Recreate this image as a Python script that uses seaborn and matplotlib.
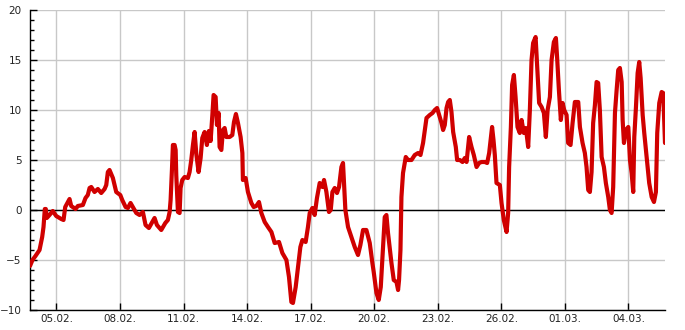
import matplotlib
matplotlib.use("Agg")
import matplotlib.pyplot as plt
import matplotlib.dates as mdates
from matplotlib.ticker import MultipleLocator
import seaborn as sns
import pandas as pd

start_time = "2023-02-03 18:00"
hours = [0.0, 2.8, 6.2, 10.8, 13.8, 15.3, 16.8, 17.9, 19.0, 22.1, 25.8, 29.7, 35.4, 38.0, 39.9,
         42.9, 44.8, 46.7, 51.6, 54.2, 59.9, 62.9, 65.5, 67.5, 69.4, 73.1, 76.9, 80.7, 84.5, 86.4,
         88.2, 90.1, 93.9, 97.7, 102.3, 104.5, 108.3, 110.9, 113.9, 116.5, 120.4, 124.1, 127.9,
         130.9, 134.7, 138.5, 141.1, 143.8, 148.7, 153.3, 156.2, 158.2, 159.3, 160.8, 161.9,
         163.8, 165.0, 165.7, 167.6, 169.5, 170.6, 172.5, 175.2, 178.9, 180.8, 182.7, 184.6,
         186.5, 188.4, 191.0, 193.3, 195.2, 197.8, 200.4, 202.7, 204.6, 206.6, 208.0, 210.3,
         211.8, 213.7, 214.8, 216.8, 218.6, 220.5, 222.4, 226.2, 229.2, 231.1, 233.3, 235.6,
         238.6, 240.6, 241.2, 244.3, 246.9, 250.8, 253.4, 256.4, 259.4, 262.1, 265.9, 269.6,
         273.5, 277.2, 282.1, 285.9, 290.5, 293.4, 296.1, 297.9, 301.0, 303.6, 306.3, 308.6,
         312.3, 314.9, 316.9, 319.9, 322.5, 325.1, 328.2, 331.3, 333.1, 335.8, 338.7, 340.7,
         342.6, 345.2, 347.8, 350.1, 352.8, 354.6, 355.8, 357.3, 360.3, 364.1, 367.9, 371.6,
         374.3, 377.3, 381.1, 384.9, 387.9, 389.4, 392.5, 395.1, 397.4, 400.0, 401.9, 403.8,
         405.6, 409.5, 412.1, 415.2, 417.0, 418.1, 419.7, 420.8, 422.6, 425.7, 428.3, 432.2,
         435.9, 439.7, 442.4, 445.3, 447.3, 449.2, 452.9, 456.0, 458.6, 461.2, 463.5, 466.2,
         468.0, 469.9, 471.9, 473.7, 475.6, 477.5, 479.4, 482.4, 483.9, 487.0, 490.0, 492.6,
         494.6, 497.5, 500.2, 502.8, 505.9, 508.8, 511.5, 515.3, 517.9, 520.2, 521.8, 523.5,
         525.1, 526.6, 528.5, 532.3, 534.2, 536.8, 539.9, 541.7, 542.8, 544.8, 546.2, 548.2,
         550.1, 552.3, 554.9, 556.9, 559.5, 561.8, 564.4, 566.3, 568.2, 570.0, 572.8, 574.6,
         576.8, 579.6, 582.2, 584.4, 586.4, 589.0, 590.9, 593.5, 595.8, 597.2, 599.2, 601.4,
         603.4, 605.2, 607.9, 609.7, 612.4, 614.7, 617.3, 621.1, 623.0, 626.0, 628.6, 630.5,
         632.4, 634.3, 636.2, 638.0, 640.0, 641.9, 643.7, 645.6, 647.6, 650.2, 652.4, 655.1,
         657.0, 658.9, 660.7, 662.7, 664.6, 666.4, 668.3, 670.3, 671.4, 672.9, 675.1, 677.8,
         679.7, 681.6, 683.4, 684.6, 686.5, 688.4, 690.2, 691.8, 694.1, 695.9, 698.6, 701.5,
         704.3, 706.9, 709.1, 710.6, 712.9, 715.6, 717.4, 719.4]
temps = [-5.6, -5.0, -4.6, -4.0, -2.7, -1.7, 0.1, 0.1, -0.8, -0.5, -0.1, -0.6, -0.9, -1.0, 0.3,
         0.8, 1.1, 0.4, 0.1, 0.4, 0.5, 1.2, 1.5, 2.2, 2.3, 1.8, 2.1, 1.7, 2.1, 2.5,
         3.8, 4.0, 3.2, 1.8, 1.5, 1.0, 0.3, 0.2, 0.7, 0.3, -0.3, -0.5, -0.2,
         -1.5, -1.8, -1.2, -0.8, -1.5, -2.0, -1.3, -1.0, -0.2, 1.0, 4.0, 6.5,
         6.5, 6.0, 3.5, -0.2, -0.3, 2.2, 3.0, 3.3, 3.2, 3.8, 5.0, 6.5,
         7.8, 5.6, 3.8, 5.2, 7.2, 7.8, 6.5, 7.9, 6.9, 9.5, 11.5, 11.3,
         8.5, 9.7, 6.3, 6.0, 8.0, 8.2, 7.3, 7.3, 7.5, 8.8, 9.6, 8.7,
         7.3, 5.7, 3.0, 3.2, 1.8, 0.7, 0.3, 0.4, 0.8, -0.3, -1.2, -1.7,
         -2.2, -3.3, -3.2, -4.3, -5.0, -6.7, -9.2, -9.3, -7.7, -5.7, -3.7, -3.0,
         -3.2, -1.7, -0.3, 0.2, -0.5, 1.2, 2.7, 2.3, 3.0, 1.8, -0.2, 0.0,
         1.8, 2.2, 1.7, 2.3, 4.3, 4.7, 2.7, 0.0, -1.7, -2.7, -3.7, -4.5,
         -3.5, -2.0, -2.0, -3.3, -5.3, -6.2, -8.3, -9.0, -7.7, -3.7, -0.7, -0.5,
         -2.3, -5.3, -7.0, -7.2, -8.0, -7.0, -4.0, 1.3, 3.7, 5.3, 5.0, 5.0,
         5.5, 5.7, 5.5, 6.7, 8.0, 9.2, 9.5, 9.7, 10.0, 10.2, 9.5, 8.7,
         8.0, 8.5, 10.2, 10.8, 11.0, 9.8, 7.8, 6.3, 5.0, 5.0, 4.8, 5.2,
         4.8, 7.3, 6.3, 5.5, 4.3, 4.7, 4.8, 4.8, 4.7, 5.7, 7.0, 8.3,
         7.0, 5.5, 2.7, 2.5, 0.7, -1.0, -2.2, -0.3, 4.3, 8.3, 12.5, 13.5,
         11.3, 8.3, 7.7, 9.0, 7.7, 8.2, 6.3, 10.0, 15.0, 16.7, 17.3, 14.3,
         10.7, 10.3, 9.7, 7.3, 10.0, 11.3, 15.0, 16.8, 17.2, 15.2, 12.0, 9.0,
         10.7, 10.0, 9.5, 6.7, 6.5, 8.7, 10.8, 10.8, 8.3, 6.7, 5.7, 4.3,
         2.0, 1.8, 3.8, 8.7, 10.5, 12.8, 12.7, 10.0, 5.3, 4.3, 2.7, 1.3,
         0.0, -0.3, 2.3, 9.7, 12.0, 14.0, 14.2, 12.8, 9.0, 6.7, 8.0, 8.3,
         5.0, 3.7, 1.8, 7.3, 10.3, 13.7, 14.8, 13.2, 9.5, 7.7, 5.3, 2.7,
         1.3, 0.8, 1.8, 7.7, 10.7, 11.8, 11.7, 6.7]

tick_start = "2023-02-05"
tick_count = 10
y_ticks = [-10, -5, 0, 5, 10, 15, 20]

df = pd.DataFrame({
    "time": pd.Timestamp(start_time) + pd.to_timedelta(hours, unit="h"),
    "temp": temps,
})

sns.set_style("white")
fig = plt.figure(figsize=(6.85, 3.3), dpi=100)
ax = fig.add_axes([30 / 685, 1 - 310 / 330, 635 / 685, 300 / 330])

ax.grid(True, which="major", color="#c8c8c8", linewidth=1)
ax.set_axisbelow(True)
ax.axhline(0, color="black", linewidth=1, zorder=2)
sns.lineplot(data=df, x="time", y="temp", ax=ax, color="#d00000", linewidth=3.0, zorder=3)

ax.set_xlim(df["time"].iloc[0], df["time"].iloc[-1])
ax.set_ylim(-10, 20)
ax.set_yticks(y_ticks)
ax.yaxis.set_minor_locator(MultipleLocator(1))
ax.set_xticks(pd.date_range(tick_start, periods=tick_count, freq="3D"))
ax.xaxis.set_major_formatter(mdates.DateFormatter("%d.%m."))
ax.set_xlabel("")
ax.set_ylabel("")

for s in ["top", "right"]:
    ax.spines[s].set_visible(False)
for s in ["left", "bottom"]:
    ax.spines[s].set_color("black")
    ax.spines[s].set_linewidth(1)

ax.tick_params(axis="both", which="major", direction="in", length=5, width=1,
               color="black", labelsize=7.5, labelcolor="#222222", left=True, bottom=True)
ax.tick_params(axis="y", which="major", pad=6)
ax.tick_params(axis="x", which="major", pad=3)
ax.tick_params(axis="y", which="minor", direction="in", length=3, width=1,
               color="black", left=True)

fig.savefig("out.png", dpi=100)
